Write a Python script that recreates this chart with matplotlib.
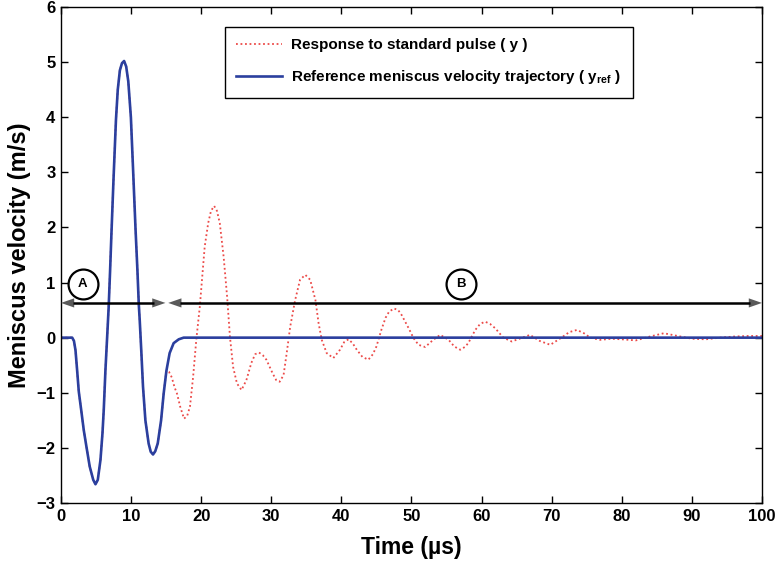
import matplotlib
matplotlib.use("Agg")
import matplotlib.pyplot as plt
from matplotlib.patches import FancyArrowPatch

plt.rcParams['font.family'] = ['Liberation Sans', 'DejaVu Sans']
plt.rcParams['font.weight'] = 'bold'
plt.rcParams['mathtext.fontset'] = 'custom'
plt.rcParams['mathtext.rm'] = 'Liberation Sans:bold'
plt.rcParams['mathtext.it'] = 'Liberation Sans:bold'
plt.rcParams['mathtext.bf'] = 'Liberation Sans:bold'

# reference meniscus velocity trajectory (time in us, velocity in m/s)
t_ref = [0, 1.0, 1.6, 1.85, 2.07, 2.3, 2.54, 2.88, 3.25, 3.63, 4.1, 4.6, 4.92, 5.25,
         5.63, 5.92, 6.1, 6.34, 6.58, 6.8, 7.0, 7.2, 7.5, 7.84, 8.1, 8.4, 8.7, 9.0,
         9.3, 9.6, 9.97, 10.3, 10.64, 10.9, 11.1, 11.23, 11.47, 11.7, 12.04, 12.5,
         12.8, 13.13, 13.45, 13.8, 14.28, 14.65, 15.04, 15.5, 16.07, 16.8, 17.5, 100]
v_ref = [0, 0, 0, -0.06, -0.23, -0.59, -0.98, -1.31, -1.68, -1.98, -2.34, -2.58,
         -2.66, -2.58, -2.22, -1.73, -1.31, -0.59, 0.0, 0.55, 1.2, 1.9, 2.9, 3.95,
         4.5, 4.85, 4.98, 5.02, 4.92, 4.65, 4.0, 3.0, 1.95, 1.23, 0.6, 0.32, -0.28,
         -0.89, -1.5, -1.92, -2.07, -2.12, -2.06, -1.92, -1.5, -1.01, -0.6, -0.28,
         -0.1, -0.03, 0, 0]

# response to the standard pulse: follows the reference up to ~15 us, then rings
t_resp_tail = [15.4, 15.8, 16.2, 16.56, 17.0, 17.55, 18.0, 18.4, 18.85, 19.3, 19.8,
               20.2, 20.5, 21.0, 21.4, 21.85, 22.25, 22.65, 23.2, 23.7, 24.1, 24.55,
               25.1, 25.75, 26.45, 27.15, 27.7, 28.25, 28.8, 29.3, 30.2, 30.7, 31.2,
               31.75, 32.2, 32.7, 33.4, 34.1, 34.85, 35.55, 36.3, 36.75, 37.2, 37.9,
               38.85, 39.8, 40.4, 41.0, 41.6, 42.2, 43.0, 43.85, 44.5, 45.0, 45.7,
               46.3, 46.8, 47.5, 48.1, 48.6, 49.6, 50.3, 51.0, 51.95, 53.1, 54.1,
               55.3, 56.1, 56.95, 57.6, 58.1, 59.1, 59.8, 60.5, 61.2, 61.95, 63.1,
               64.3, 65.6, 66.9, 68.3, 69.8, 71.4, 72.5, 73.6, 74.6, 75.5, 76.9,
               78.5, 80, 82, 84, 86, 88, 90, 92, 94, 96, 98, 100]
v_resp_tail = [-0.62, -0.72, -0.9, -1.02, -1.25, -1.47, -1.42, -1.25, -0.71, -0.04,
               0.56, 1.17, 1.65, 2.08, 2.3, 2.39, 2.3, 2.08, 1.47, 0.74, 0.02, -0.53,
               -0.83, -0.95, -0.77, -0.46, -0.3, -0.27, -0.32, -0.4, -0.65, -0.77,
               -0.8, -0.68, -0.28, 0.2, 0.68, 1.05, 1.14, 1.05, 0.68, 0.26, -0.04,
               -0.28, -0.37, -0.22, -0.08, -0.03, -0.1, -0.22, -0.35, -0.4, -0.3,
               -0.16, 0.14, 0.36, 0.47, 0.53, 0.5, 0.41, 0.17, -0.01, -0.13, -0.17,
               -0.04, 0.05, -0.04, -0.16, -0.22, -0.17, -0.1, 0.14, 0.25, 0.29, 0.25,
               0.17, 0.0, -0.07, -0.01, 0.05, -0.06, -0.13, 0.0, 0.1, 0.14, 0.08, 0.0,
               -0.04, -0.02, -0.03, -0.05, 0.02, 0.08, 0.03, -0.02, -0.03, 0.0, 0.02,
               0.03, 0.03]

n_shared = sum(1 for t in t_ref if t <= 15.04)
t_resp = t_ref[:n_shared] + t_resp_tail
v_resp = v_ref[:n_shared] + v_resp_tail

fig = plt.figure(figsize=(7.75, 5.63), dpi=100)
ax = fig.add_axes([0.0787, 0.1066, 0.9045, 0.881])

ax.plot(t_resp, v_resp, linestyle=(0, (1, 1.5)), color='#ec4a48', lw=1.3,
        label='Response to standard pulse ( y )')
ax.plot(t_ref, v_ref, color='#2b3f9e', lw=1.9,
        label='Reference meniscus velocity trajectory ( y$_{\\rm ref}$ )')

# phase arrows A and B
arrow_y = 0.63
for x0, x1 in [(0, 14.9), (15.3, 100)]:
    ax.add_patch(FancyArrowPatch((x0, arrow_y), (x1, arrow_y),
                                 arrowstyle='<|-|>,head_length=9.5,head_width=3.3',
                                 mutation_scale=1, color='#5a5a5a', lw=0,
                                 shrinkA=0, shrinkB=0, clip_on=False, zorder=4))
    ax.plot([x0 + 1.7, x1 - 1.7], [arrow_y, arrow_y], color='black', lw=1.8,
            zorder=5, solid_capstyle='butt')

for label, cx, cy in [('A', 3.1, 0.97), ('B', 57.0, 0.97)]:
    ax.plot(cx, cy, marker='o', markersize=21.5, mfc='white', mec='black', mew=1.6,
            zorder=5)
    ax.text(cx, cy, label, ha='center', va='center', fontsize=9.5,
            fontweight='bold', zorder=6)

ax.set_xlim(0, 100)
ax.set_ylim(-3, 6)
ax.set_xticks(range(0, 101, 10))
ax.set_yticks(range(-3, 7))
ax.set_yticklabels(['\u22123', '\u22122', '\u22121', '0', '1', '2', '3', '4', '5', '6'])
ax.tick_params(direction='in', top=True, right=True, length=5, width=1,
               labelsize=12, pad=4)
for lab in ax.get_xticklabels() + ax.get_yticklabels():
    lab.set_fontweight('bold')
for s in ax.spines.values():
    s.set_linewidth(1.0)

ax.set_xlabel('Time (\u00b5s)', fontsize=16.5, fontweight='bold', labelpad=9)
ax.set_ylabel('Meniscus velocity (m/s)', fontsize=17, fontweight='bold', labelpad=4)

leg = ax.legend(loc='upper left', bbox_to_anchor=(0.234, 0.96), borderaxespad=0,
                fancybox=False, edgecolor='black', framealpha=1, handlelength=3.0,
                prop={'weight': 'bold', 'size': 11},
                borderpad=0.75, labelspacing=1.05, handletextpad=0.6)
leg.get_frame().set_linewidth(1.0)

fig.savefig('out.png', dpi=100)
